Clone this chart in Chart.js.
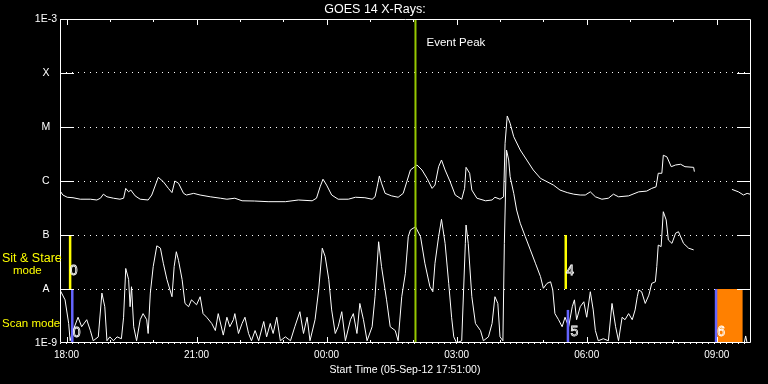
<!DOCTYPE html>
<html>
<head>
<meta charset="utf-8">
<script src="https://cdn.jsdelivr.net/npm/chart.js@4.4.1/dist/chart.umd.min.js"></script>
<style>
  html, body { margin: 0; padding: 0; background: #000; }
  canvas { display: block; }
</style>
</head>
<body>
<canvas id="goes" width="768" height="384"></canvas>
<script>
// minutes after the start time 17:51:00 (05-Sep-12)
const longTime = [0, 4, 10, 18, 28, 42, 51, 56, 60, 65, 74, 83, 88, 91, 95, 98, 104, 111, 122, 127,
  136, 143, 150, 155, 159, 164, 171, 175, 185, 194, 208, 222, 231, 242, 252, 269, 288, 312, 330, 349,
  355, 360, 364, 369, 376, 385, 399, 409, 422, 432, 436, 439, 442, 445, 450, 459, 468, 475, 480, 485,
  494, 501, 508, 515, 519, 524, 528, 533, 540, 547, 556, 560, 562, 567, 570, 577, 589, 598, 602, 609,
  614, 616, 619, 623, 628, 637, 646, 655, 665, 674, 683, 692, 702, 711, 720, 727, 734, 741, 750, 759,
  766, 773, 787, 801, 812, 819, 825, 828, 833, 835, 840, 846, 852, 859, 865, 877, 878, 900, 930, 939,
  946, 951, 955];
const longFlux = [6.6e-7, 5.5e-7, 5.0e-7, 4.9e-7, 4.6e-7, 4.6e-7, 4.45e-7, 4.8e-7, 5.7e-7, 5.1e-7,
  4.8e-7, 4.6e-7, 4.8e-7, 7.3e-7, 6.3e-7, 6.8e-7, 5.3e-7, 4.6e-7, 4.45e-7, 5.5e-7,
  1.17e-6, 9.7e-7, 7.3e-7, 6.1e-7, 1.0e-6, 9.1e-7, 5.9e-7, 5.5e-7, 5.9e-7, 5.5e-7,
  5.1e-7, 4.8e-7, 4.6e-7, 4.8e-7, 4.3e-7, 4.26e-7, 4.14e-7, 4.14e-7, 4.45e-7, 4.3e-7,
  4.8e-7, 7.8e-7, 1.08e-6, 8.4e-7, 5.5e-7, 4.6e-7, 4.6e-7, 5.0e-7, 4.9e-7, 4.6e-7,
  5.1e-7, 7.8e-7, 1.24e-6, 9.1e-7, 5.9e-7, 5.3e-7, 5.0e-7, 5.9e-7, 9.7e-7, 1.6e-6,
  1.98e-6, 1.6e-6, 1.12e-6, 7.3e-7, 8.4e-7, 1.84e-6, 2.45e-6, 1.6e-6, 9.7e-7, 5.5e-7,
  4.6e-7, 7.3e-7, 1.79e-6, 1.39e-6, 6.8e-7, 4.8e-7, 4.3e-7, 4.45e-7, 5.0e-7, 4.6e-7,
  5.1e-7, 5.0e-6, 1.6e-5, 1.17e-5, 6.6e-6, 3.75e-6, 2.45e-6, 1.6e-6, 1.12e-6, 9.7e-7,
  8.4e-7, 6.8e-7, 6.1e-7, 5.7e-7, 5.5e-7, 5.5e-7, 6.3e-7, 5.1e-7, 4.6e-7, 4.8e-7,
  5.7e-7, 5.1e-7, 5.3e-7, 6.3e-7, 6.5e-7, 7.3e-7, 7.8e-7, 1.39e-6, 1.39e-6, 3.0e-6,
  2.8e-6, 1.84e-6, 1.98e-6, 2.04e-6, 1.84e-6, 1.79e-6, 1.49e-6, null, 7.0e-7, 6.3e-7,
  5.5e-7, 5.9e-7, 5.7e-7];

const shortTime = [0, 7, 12, 14, 18, 25, 30, 37, 42, 46, 53, 58, 62, 65, 69, 74, 79, 85, 88, 91,
  95, 97, 99, 102, 106, 111, 115, 120, 122, 125, 129, 134, 139, 143, 148, 155, 158, 161, 164, 169,
  173, 178, 182, 189, 194, 198, 203, 210, 215, 219, 226, 231, 235, 240, 242, 247, 252, 256, 261, 265,
  270, 275, 282, 286, 291, 295, 300, 305, 312, 319, 325, 332, 337, 342, 346, 353, 358, 363, 367, 372,
  376, 381, 385, 390, 395, 402, 406, 411, 415, 420, 425, 432, 436, 441, 445, 452, 457, 464, 468, 473,
  478, 482, 485, 492, 499, 505, 512, 516, 519, 524, 528, 533, 538, 542, 545, 549, 556, 561, 562, 565,
  570, 575, 582, 586, 593, 598, 602, 606, 609, 613, 615, 618, 621, 623, 628, 632, 637, 644, 651, 658,
  665, 669, 674, 679, 682, 685, 690, 695, 699, 704, 709, 712, 715, 720, 725, 729, 734, 738, 741, 745,
  752, 759, 764, 769, 773, 778, 782, 787, 792, 796, 799, 801, 805, 810, 815, 819, 824, 826, 828, 832,
  835, 839, 842, 847, 852, 856, 863, 870, 877, 900, 947, 949, 951];
const shortFlux = [9.6e-9, 6.3e-9, 2.3e-9, 1.1e-9, 1.7e-9, 3.0e-9, 2.0e-9, 2.7e-9, 1.7e-9, 1.1e-9,
  1.3e-9, 8.4e-9, 4.7e-9, 1.1e-9, 1.3e-9, 1.1e-9, 1.3e-9, 1.2e-9, 3.0e-9, 2.4e-8,
  1.5e-8, 4.7e-9, 1.1e-8, 2.0e-9, 1.1e-9, 2.7e-9, 3.5e-9, 2.7e-9, 1.5e-9, 8.4e-9,
  2.6e-8, 6.3e-8, 5.7e-8, 3.0e-8, 1.5e-8, 7.2e-9, 2.6e-8, 4.9e-8, 3.4e-8, 1.5e-8,
  5.4e-9, 4.7e-9, 6.3e-9, 5.1e-9, 7.2e-9, 3.5e-9, 3.0e-9, 2.3e-9, 1.7e-9, 3.5e-9,
  1.4e-9, 3.0e-9, 2.0e-9, 2.7e-9, 3.5e-9, 1.5e-9, 2.3e-9, 3.0e-9, 1.5e-9, 1.1e-9,
  1.7e-9, 1.1e-9, 2.5e-9, 1.3e-9, 2.3e-9, 1.5e-9, 3.0e-9, 1.1e-9, 1.3e-9, 1.1e-9,
  2.0e-9, 3.8e-9, 1.5e-9, 3.0e-9, 1.1e-9, 2.7e-9, 9.6e-9, 5.7e-8, 4.0e-8, 1.5e-8,
  4.1e-9, 1.5e-9, 2.0e-9, 3.8e-9, 1.1e-9, 2.7e-9, 3.5e-9, 1.5e-9, 5.4e-9, 2.7e-9,
  1.1e-9, 2.0e-9, 7.2e-9, 7.5e-8, 2.6e-8, 6.3e-9, 2.0e-9, 1.7e-9, 1.1e-9, 7.2e-9,
  1.95e-8, 9.3e-8, 1.24e-7, 1.42e-7, 9.3e-8, 3.0e-8, 1.1e-8, 8.9e-9, 3.0e-8, 9.3e-8,
  1.95e-7, 7.0e-8, 1.27e-8, 3.0e-9, 1.3e-9, 1.0e-9, 1.1e-9, 7.0e-8, 1.53e-7, 7.0e-8,
  7.2e-9, 2.3e-9, 1.7e-9, 1.1e-9, 1.3e-9, 2.3e-9, 7.2e-9, 5.4e-9, 1.3e-9, 1.1e-9,
  7.0e-8, 3.75e-6, 2.45e-6, 1.2e-6, 5.9e-7, 2.9e-7, 1.65e-7, 9.3e-8, 5.3e-8, 3.0e-8,
  1.7e-8, 1.03e-8, 1.27e-8, 1.36e-8, 9.6e-9, 3.5e-9, 2.7e-9, 2.0e-9, 3.0e-9, 2.0e-9,
  4.7e-9, 6.3e-9, 2.7e-9, 4.7e-9, 5.8e-9, 3.0e-9, 8.9e-9, 4.1e-9, 1.7e-9, 1.1e-9,
  1.2e-9, 1.1e-9, 5.4e-9, 2.0e-9, 1.1e-9, 3.0e-9, 2.7e-9, 3.5e-9, 2.7e-9, 4.1e-9,
  7.2e-9, 9.6e-9, 8.9e-9, 5.4e-9, 7.7e-9, 1.27e-8, 1.36e-8, 2.6e-8, 6.5e-8, 6.1e-8,
  2.7e-7, 1.9e-7, 8.1e-8, 7.0e-8, 1.08e-7, 1.15e-7, 7.0e-8, 5.7e-8, 5.3e-8, null,
  1.0e-9, 1.35e-9, 1.0e-9];

const yTickValues = [1e-9, 1e-8, 1e-7, 1e-6, 1e-5, 1e-4, 1e-3];
const yTickLabels = ['1E-9', 'A', 'B', 'C', 'M', 'X', '1E-3'];
const xTickValues = [9, 189, 369, 549, 729, 909];
const xTickLabels = ['18:00', '21:00', '00:00', '03:00', '06:00', '09:00'];

const eventPeak = 492;
const stareTimes = [14, 700];
const scanTimes = [17, 703, 908];
const scanTops = [1e-8, 4.1e-9, 1e-8];
const busySpan = [909, 945];
const markerLabels = ['0', '0', '4', '5', '6'];
const markerTimes = [19, 23, 706, 712, 915];
const markerFlux = [2.1e-8, 1.5e-9, 2.1e-8, 1.6e-9, 1.6e-9];

function pairs(xs, ys) {
  return xs.map((t, i) => ({ x: t, y: ys[i] }));
}

function vline(t, lo, hi, color, width) {
  return {
    data: [{ x: t, y: lo }, { x: t, y: hi }],
    borderColor: color,
    borderWidth: width,
    pointRadius: 0,
    order: 0
  };
}

const datasets = [];
datasets.push(vline(eventPeak, 1e-9, 1e-3, 'rgb(150,200,0)', 2));
stareTimes.forEach(t => datasets.push(vline(t, 1e-8, 1e-7, '#ffff00', 2.5)));
scanTimes.forEach((t, i) => datasets.push(vline(t, 1e-9, scanTops[i], 'rgb(100,100,255)', 2.5)));
datasets.push({
  data: [{ x: busySpan[0], y: 1e-8 }, { x: busySpan[1], y: 1e-8 }],
  borderWidth: 0,
  borderColor: 'rgb(255,128,0)',
  backgroundColor: 'rgb(255,128,0)',
  fill: 'start',
  pointRadius: 0,
  order: 1
});
datasets.push({
  data: pairs(longTime, longFlux),
  borderColor: '#fff',
  borderWidth: 1,
  pointRadius: 0,
  spanGaps: false,
  order: 2
});
datasets.push({
  data: pairs(shortTime, shortFlux),
  borderColor: '#fff',
  borderWidth: 1,
  pointRadius: 0,
  spanGaps: false,
  order: 2
});

// box, inward ticks and the text notes
const frame = {
  id: 'frame',
  afterDraw(chart) {
    const { ctx, chartArea: a, scales: { x, y } } = chart;
    ctx.save();
    ctx.strokeStyle = '#fff';
    ctx.lineWidth = 1;
    ctx.beginPath();
    ctx.rect(a.left + 0.5, a.top + 0.5, a.right - a.left, a.bottom - a.top - 1);
    yTickValues.slice(1, -1).forEach(v => {
      const py = Math.round(y.getPixelForValue(v)) + 0.5;
      ctx.moveTo(a.left, py); ctx.lineTo(a.left + 14, py);
      ctx.moveTo(a.right + 1, py); ctx.lineTo(a.right - 13, py);
    });
    for (let t = xTickValues[0]; t <= x.max; t += 60) {
      const len = xTickValues.includes(t) ? 6 : 3;
      const px = Math.round(x.getPixelForValue(t)) + 0.5;
      ctx.moveTo(px, a.top); ctx.lineTo(px, a.top + len);
      ctx.moveTo(px, a.bottom); ctx.lineTo(px, a.bottom - len);
    }
    ctx.stroke();

    ctx.fillStyle = '#fff';
    ctx.textBaseline = 'middle';
    ctx.textAlign = 'left';
    ctx.font = '11.5px "Liberation Sans"';
    ctx.fillText('Event Peak', x.getPixelForValue(eventPeak) + 11, a.top + 24);

    ctx.fillStyle = '#ffff00';
    const stareMid = y.getPixelForValue(Math.sqrt(1e-8 * 1e-7));
    const scanMid = y.getPixelForValue(Math.sqrt(1e-9 * 1e-8));
    ctx.font = '12.5px "Liberation Sans"';
    ctx.fillText('Sit & Stare', 2, stareMid - 3);
    ctx.font = '11.5px "Liberation Sans"';
    ctx.fillText('mode', 13, stareMid + 9);
    ctx.fillText('Scan mode', 2, scanMid + 8);

    ctx.textAlign = 'center';
    ctx.lineWidth = 0.8;
    ctx.font = '14px "Liberation Sans"';
    markerLabels.forEach((s, i) => {
      ctx.strokeText(s, x.getPixelForValue(markerTimes[i]), y.getPixelForValue(markerFlux[i]));
    });
    ctx.restore();
  }
};

Chart.defaults.font.family = '"Liberation Sans", Arial, sans-serif';
Chart.defaults.color = '#fff';

new Chart(document.getElementById('goes'), {
  type: 'line',
  data: { datasets: datasets },
  options: {
    responsive: false,
    animation: false,
    events: [],
    layout: { padding: { left: 0, right: 18, top: 0, bottom: 0 } },
    plugins: {
      legend: { display: false },
      tooltip: { enabled: false },
      title: {
        display: true,
        text: 'GOES 14 X-Rays:',
        color: '#fff',
        font: { size: 12.5, weight: 'normal' },
        padding: { top: 2, bottom: 2 }
      }
    },
    scales: {
      x: {
        type: 'linear',
        min: 0,
        max: 955,
        afterBuildTicks: s => { s.ticks = xTickValues.map(v => ({ value: v })); },
        afterFit: s => { s.height = 41; },
        grid: { display: false, drawTicks: false },
        border: { display: false },
        ticks: {
          color: '#fff',
          padding: 6,
          maxRotation: 0,
          autoSkip: false,
          font: { size: 10 },
          callback: (v, i) => xTickLabels[i]
        },
        title: {
          display: true,
          text: 'Start Time (05-Sep-12 17:51:00)',
          color: '#fff',
          font: { size: 10.5 },
          padding: { top: 0, bottom: 8 }
        }
      },
      y: {
        type: 'logarithmic',
        min: 1e-9,
        max: 1e-3,
        afterBuildTicks: s => { s.ticks = yTickValues.map(v => ({ value: v })); },
        afterFit: s => { s.width = 60; },
        grid: { color: '#fff', lineWidth: 1, drawTicks: false },
        border: { display: false, dash: [1, 5] },
        ticks: {
          color: '#fff',
          padding: 3,
          crossAlign: 'center',
          font: { size: 10.5 },
          callback: (v, i) => yTickLabels[i]
        }
      }
    }
  },
  plugins: [frame]
});
</script>
</body>
</html>
